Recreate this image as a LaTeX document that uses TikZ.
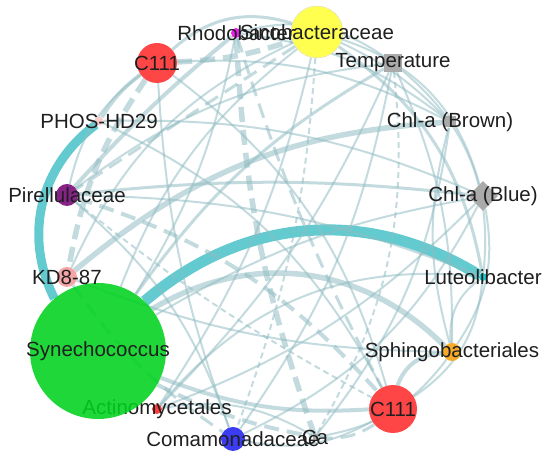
\documentclass[tikz,border=0pt]{standalone}
\usepackage{fontspec}
\setmainfont{Liberation Sans}
\usetikzlibrary{shapes.geometric, backgrounds}

\definecolor{linkteal}{RGB}{145,188,194}
\definecolor{strongcyan}{RGB}{72,194,200}
\definecolor{nodered}{RGB}{255,60,60}
\definecolor{nodeyellow}{RGB}{255,255,80}
\definecolor{nodegreen}{RGB}{0,210,30}
\definecolor{nodemagenta}{RGB}{235,30,235}
\definecolor{nodepurple}{RGB}{135,35,135}
\definecolor{nodepink}{RGB}{245,165,165}
\definecolor{nodepale}{RGB}{250,205,205}
\definecolor{nodeorange}{RGB}{245,170,40}
\definecolor{nodeblue}{RGB}{60,60,240}
\definecolor{nodegrey}{RGB}{170,170,170}
\definecolor{nodecyan}{RGB}{30,200,205}

\begin{document}
\begin{tikzpicture}[
    x=1pt, y=1pt,
    taxon/.style={circle, inner sep=0pt, draw=none},
    factor/.style={rectangle, inner sep=0pt, fill=nodegrey, draw=none},
    every label/.style={font=\fontsize{20.5}{24}\selectfont, text=black!88, inner sep=0pt},
    link/.style={draw=linkteal, draw opacity=0.55, line width=2pt},
    widelink/.style={link, line width=5.5pt},
    neglink/.style={dash pattern=on 15pt off 8pt},
    thinneg/.style={dash pattern=on 6pt off 4pt},
    strong/.style={draw=strongcyan, draw opacity=0.85}
]
\useasboundingbox (0,0) rectangle (550,465);

% nodes, clockwise from the top
\node[taxon, minimum size=52pt, fill=nodeyellow, draw=black!15, label={center:Sinobacteraceae}] (sino) at (317,433) {};
\node[factor, minimum size=18pt, label={center:Temperature}] (temp) at (393,402) {};
\node[factor, minimum size=11pt, label={center:Chl-a (Brown)}] (chlbr) at (450,343) {};
\node[diamond, inner sep=0pt, minimum size=30pt, fill=nodegrey, label={center:Chl-a (Blue)}] (chlbl) at (483,269) {};
\node[taxon, minimum size=8pt, fill=nodecyan, label={center:Luteolibacter}] (luteo) at (483,188) {};
\node[taxon, minimum size=18pt, fill=nodeorange, label={center:Sphingobacteriales}] (sphingo) at (452,113) {};
\node[taxon, minimum size=48pt, fill=nodered, fill opacity=0.95, label={center:C111}] (cb) at (393,56) {};
\node[factor, minimum size=5pt, label={center:Ca}] (ca) at (315,28) {};
\node[taxon, minimum size=24pt, fill=nodeblue, label={center:Comamonadaceae}] (coma) at (233,26) {};
\node[taxon, minimum size=10pt, fill=nodered, label={center:Actinomycetales}] (actino) at (157,56) {};
\node[taxon, minimum size=136pt, fill=nodegreen, fill opacity=0.88, label={center:Synechococcus}] (syn) at (98,114) {};
\node[taxon, minimum size=20pt, fill=nodepink, label={center:KD8-87}] (kd) at (67,188) {};
\node[taxon, minimum size=22pt, fill=nodepurple, label={center:Pirellulaceae}] (pirel) at (67,270) {};
\node[taxon, minimum size=9pt, fill=nodepale, label={center:PHOS-HD29}] (phos) at (99,344) {};
\node[taxon, minimum size=40pt, fill=nodered, fill opacity=0.95, label={center:C111}] (ct) at (157,402) {};
\node[taxon, minimum size=10pt, fill=nodemagenta, label={center:Rhodobacter}] (rhodo) at (236,432) {};

\begin{scope}[on background layer]
% strong positive
\draw[link, strong, line width=9pt] (phos) to[bend right=40] (syn);
\draw[link, strong, line width=11pt] (syn) to[bend left=36] (luteo);
% wide links
\draw[widelink] (syn) to[bend left=38] (sphingo);
\draw[widelink] (chlbr) to[bend right=18] (kd);
\draw[widelink, line width=4pt] (syn) to[bend right=12] (cb);
\draw[widelink, line width=4pt] (ct) to[bend right=10] (phos);
\draw[widelink, line width=4pt] (cb) to[bend left=35] (sphingo);
\draw[widelink, line width=4pt] (rhodo) to[bend right=4] (pirel);
\draw[link, line width=3pt] (chlbl) to[bend right=6] (pirel);
\draw[link, line width=3pt] (ct) to[bend left=30] (sino);
\draw[link, line width=3pt] (temp) to[bend right=12] (syn);
\draw[link, line width=3pt] (sino) to[bend left=22] (luteo);
% negative
\draw[widelink, neglink] (ct) to[bend right=12] (kd);
\draw[widelink, neglink] (ct) to[bend right=8] (sino);
\draw[widelink, neglink] (rhodo) to[bend right=8] (ca);
\draw[widelink, neglink, line width=4pt] (pirel) to[bend left=15] (cb);
\draw[widelink, neglink, line width=4pt] (syn) to[bend right=8] (ca);
\draw[link, neglink, line width=3pt] (rhodo) to[bend right=5] (cb);
\draw[link, neglink, line width=3pt] (sino) to (pirel);
\draw[link, neglink, line width=3pt] (kd) to[bend right=10] (coma);
\draw[link, neglink, line width=3pt] (ca) to[bend right=20] (cb);
\draw[link, thinneg] (temp) to[bend left=18] (ca);
\draw[link, thinneg] (pirel) to[bend right=5] (cb);
\draw[link, thinneg] (sino) to[bend left=8] (coma);
% thin
\draw[link] (sino) to[bend left=28] (chlbl);
\draw[link] (temp) to[bend left=28] (luteo);
\draw[link] (temp) to[bend left=12] (sphingo);
\draw[link] (chlbl) to[bend left=22] (sphingo);
\draw[link] (chlbr) to[bend right=15] (sphingo);
\draw[link] (luteo) to[bend right=30] (sphingo);
\draw[link] (chlbl) to[bend left=18] (coma);
\draw[link] (chlbl) to[bend left=12] (actino);
\draw[link] (chlbl) to[bend right=10] (syn);
\draw[link] (coma) to[bend right=15] (pirel);
\draw[link] (coma) to[bend right=12] (temp);
\draw[link] (coma) to[bend left=8] (ct);
\draw[link] (sino) to[bend right=15] (syn);
\draw[link] (sino) to[bend right=20] (kd);
\draw[link] (sino) to[bend left=10] (actino);
\draw[link] (temp) to[bend right=15] (pirel);
\draw[link] (ct) to[bend left=15] (chlbr);
\draw[link] (ct) to[bend left=18] (cb);
\draw[link] (phos) to[bend left=12] (chlbl);
\draw[link] (phos) to[bend left=18] (cb);
\draw[link] (pirel) to[bend left=10] (luteo);
\draw[link] (kd) to[bend right=10] (sphingo);
\draw[link] (actino) to[bend left=28] (luteo);
\draw[link] (actino) to[bend right=10] (temp);
\draw[link] (cb) to[bend right=25] (luteo);
\draw[link] (ca) to[bend right=15] (chlbr);
\draw[link] (ca) to[bend right=22] (sphingo);
\draw[link] (rhodo) to[bend left=15] (chlbr);
\draw[link] (rhodo) to[bend left=10] (syn);
\draw[link] (pirel) to[bend left=20] (ct);
\draw[link] (coma) to[bend right=20] (cb);
\draw[link] (actino) to[bend left=20] (ca);
\draw[link] (rhodo) to[bend left=25] (temp);
\draw[link] (sino) to[bend left=10] (chlbr);
\end{scope}

\end{tikzpicture}
\end{document}
